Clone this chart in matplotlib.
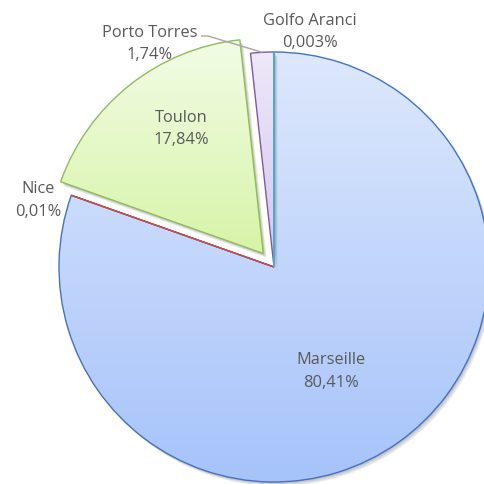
import numpy as np
import matplotlib
matplotlib.use('Agg')
import matplotlib.pyplot as plt
from matplotlib.patches import PathPatch
from matplotlib.colors import to_rgb
from matplotlib.transforms import Affine2D

# ---- data ----
categories = ['Marseille', 'Nice', 'Toulon', 'Porto Torres', 'Golfo Aranci']
shares = [80.41, 0.01, 17.84, 1.74, 0.003]
share_labels = ['80,41%', '0,01%', '17,84%', '1,74%', '0,003%']

# ---- style ----
explode_frac = [0, 0, 0.08, 0.0, 0]
edge_colors = ['#4472c4', '#c0504d', '#8fbd56', '#7c5ba6', '#4bacc6']
top_colors = ['#dde8fc', '#f3d9d8', '#f2fce6', '#eee8f9', '#def2f7']
bottom_colors = ['#a6c3fa', '#e8a8a6', '#d7f4a8', '#d4c5ef', '#aee0ee']
text_color = '#595959'
font = 'Open Sans'
fs = 11.8

W, H = 484, 485
fig = plt.figure(figsize=(W / 100, H / 100), dpi=100)
ax = fig.add_axes([0, 0, 1, 1])
cx, cy, R = 274, H - 268, 215

wedges, _ = ax.pie(shares, explode=[e * R for e in explode_frac],
                   startangle=90, counterclock=False,
                   radius=R, center=(cx, cy),
                   wedgeprops=dict(linewidth=1.0, facecolor='none'))

for i, w in enumerate(wedges):
    base = 3 * i + 1
    w.set_edgecolor(edge_colors[i])
    w.set_zorder(base + 2)
    path = w.get_path()
    if shares[i] > 1:
        # soft shadow
        for k in range(5):
            d = 0.8 + 0.9 * k
            sp = path.transformed(Affine2D().translate(d * 0.8, -d))
            ax.add_patch(PathPatch(sp, facecolor='black', edgecolor='none',
                                   alpha=0.06, zorder=base))
        ext = path.get_extents()
        n = 128
        t = np.linspace(0, 1, n)[:, None]
        c0 = np.array(to_rgb(bottom_colors[i]))
        c1 = np.array(to_rgb(top_colors[i]))
        img = (c0 * (1 - t) + c1 * t)[:, None, :]
        im = ax.imshow(img, extent=[ext.x0, ext.x1, ext.y0, ext.y1],
                       origin='lower', aspect='auto', interpolation='bilinear',
                       zorder=base + 1)
        im.set_clip_path(w)

# ---- labels (image pixel positions: x, y of name line, y of value line) ----
label_pos = [(331, 360, 383), (38, 189, 212), (181, 118, 140),
             (150, 33, 55), (310, 21, 43)]
for i, (x, y1, y2) in enumerate(label_pos):
    ax.text(x, H - y1, categories[i], ha='center', va='center', fontsize=fs,
            family=font, color=text_color, zorder=30)
    ax.text(x, H - y2, share_labels[i], ha='center', va='center', fontsize=fs,
            family=font, color=text_color, zorder=30)

# leader line for Porto Torres
w = wedges[3]
mid = np.deg2rad((w.theta1 + w.theta2) / 2)
px = w.center[0] + w.r * np.cos(mid)
py = w.center[1] + w.r * np.sin(mid)
ax.plot([201, 208, px], [H - 37, H - 37, py], color='#a6a6a6', lw=1.0,
        zorder=29, solid_capstyle='butt')

ax.set_xlim(0, W)
ax.set_ylim(0, H)
ax.set_aspect('equal')
ax.axis('off')
fig.savefig('out.png', dpi=100, facecolor='white')
